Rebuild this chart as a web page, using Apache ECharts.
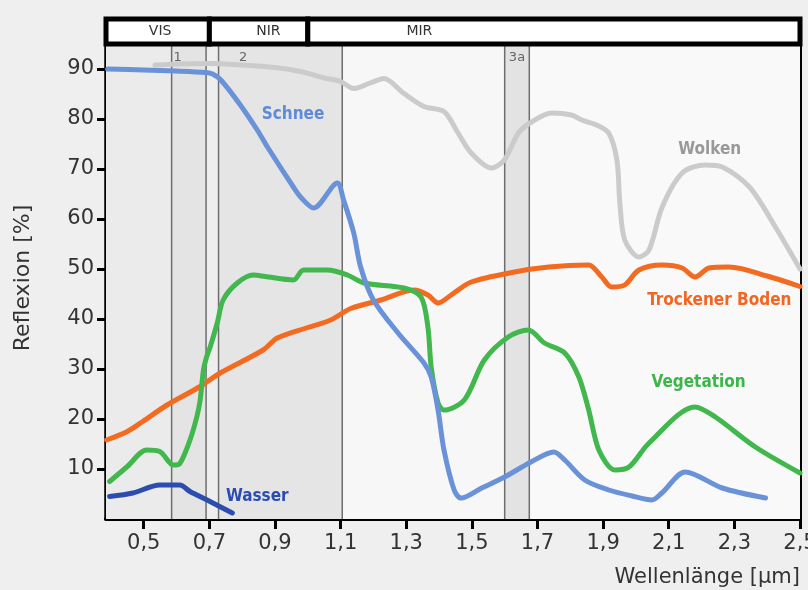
<!DOCTYPE html>
<html><head><meta charset="utf-8">
<script src="https://cdn.jsdelivr.net/npm/echarts@6/dist/echarts.min.js"></script>
<style>html,body{margin:0;padding:0;background:#efefef}#c{width:808px;height:590px}</style>
</head><body><div id="c"></div>
<script>
// ---- data ----
const xTicks = [0.5,0.7,0.9,1.1,1.3,1.5,1.7,1.9,2.1,2.3,2.5];
const yTicks = [10,20,30,40,50,60,70,80,90];

const schnee = [[0.39,90],[0.5,89.8],[0.6,89.6],[0.69,89.3],[0.71,89],[0.735,87.8],[0.79,83.2],[0.846,77.8],[0.877,74.4],[0.956,66.4],[0.978,64.4],[1.018,62.2],[1.09,67.2],[1.109,63.8],[1.14,57.2],[1.161,50.4],[1.2,43.8],[1.275,37.2],[1.354,31.2],[1.376,28.4],[1.397,21.8],[1.415,13.8],[1.446,5.8],[1.467,4.2],[1.53,6.2],[1.6,8.4],[1.68,11.4],[1.75,13.4],[1.783,11.8],[1.844,7.8],[1.917,5.8],[1.988,4.6],[2.049,3.8],[2.079,5.2],[2.15,9.4],[2.263,6.2],[2.395,4.2]];

const wolken = [[0.534,90.8],[0.6,91],[0.702,91.1],[0.8,90.8],[0.9,90.3],[0.978,89.5],[1.05,88.2],[1.1,87.5],[1.14,86.1],[1.19,87.2],[1.232,88.1],[1.293,85.1],[1.354,82.5],[1.415,81.5],[1.458,77.2],[1.498,73.2],[1.559,70.2],[1.599,71.8],[1.642,77.2],[1.682,79.4],[1.743,81.2],[1.804,80.8],[1.835,79.8],[1.88,78.8],[1.917,77.2],[1.942,71.8],[1.951,63.2],[1.966,55.8],[2.009,52.4],[2.04,53.8],[2.08,62.4],[2.141,69.2],[2.211,70.8],[2.263,70.4],[2.346,66.4],[2.425,58.4],[2.5,50]];

const boden = [[0.387,15.8],[0.45,17.5],[0.497,19.5],[0.571,22.8],[0.672,26.5],[0.733,29.2],[0.864,33.8],[0.907,36.2],[1.0,38.3],[1.07,39.8],[1.131,42.1],[1.223,43.8],[1.324,45.8],[1.366,44.8],[1.397,43.2],[1.437,44.8],[1.498,47.4],[1.63,49.4],[1.734,50.4],[1.856,50.8],[1.896,48.4],[1.926,46.4],[1.966,46.8],[2.009,49.8],[2.08,50.8],[2.141,50.2],[2.18,48.4],[2.223,50.2],[2.284,50.4],[2.4,48.6],[2.5,46.5]];

const vegetation = [[0.396,7.5],[0.45,10.5],[0.509,13.8],[0.549,13.5],[0.59,10.8],[0.61,11.1],[0.641,15.8],[0.662,20.5],[0.672,23.8],[0.682,29.8],[0.692,32.5],[0.702,34.3],[0.724,39.2],[0.742,43.8],[0.785,47.2],[0.834,48.8],[0.87,48.5],[0.956,47.8],[0.987,49.8],[1.06,49.8],[1.121,48.8],[1.171,47.2],[1.293,46.2],[1.345,44.4],[1.366,38.4],[1.376,30.4],[1.397,23.2],[1.415,21.8],[1.477,23.8],[1.538,31.8],[1.611,36.4],[1.672,37.8],[1.721,35.2],[1.783,33.2],[1.826,28.4],[1.856,21.8],[1.887,13.8],[1.936,9.8],[1.979,10.4],[2.04,15.2],[2.18,22.4],[2.242,20.4],[2.364,14.4],[2.5,9.2]];

const wasser = [[0.396,4.5],[0.467,5.2],[0.549,6.8],[0.61,6.8],[0.641,5.5],[0.702,3.5],[0.77,1.2]];

// spectral ranges (top row): name, from, to, label position
const bandNames = ['VIS','NIR','MIR'];
const bandFrom = [0.385,0.7,1.0];
const bandTo = [0.7,1.0,2.5];
const bandLabelX = [0.55,0.88,1.34];
const bandRow = [95,100];

// sensor channels
const channelNames = ['1','2','3a'];
const channelFrom = [0.585,0.728,1.6];
const channelTo = [0.69,1.105,1.675];
const channelLabelX = [0.603,0.803,1.6375];
const channelLabelY = 92.3;

// background regions
const regionEdges = [0.385,0.585,0.69,0.728,1.105,1.6,1.675,2.5];

// series label positions
const seriesLabels = [
  ['Schnee',0.955,80.9],
  ['Wolken',2.225,73.9],
  ['Trockener Boden',2.254,43.7],
  ['Vegetation',2.191,27.3],
  ['Wasser',0.846,4.5]
];

// ---- styles ----
const regionColors = ['#ebebeb','#e4e4e4','#eeeeee','#e5e5e5','#f7f7f7','#e3e3e3','#f9f9f9'];
const colors = {Schnee:'#6a92d8', Wolken:'#cbcbcb', 'Trockener Boden':'#f26b21', Vegetation:'#41b74e', Wasser:'#2c4db0'};
const labelColors = {Schnee:'#5f8ad6', Wolken:'#999999', 'Trockener Boden':'#f26522', Vegetation:'#3cb54a', Wasser:'#2c4db0'};
const tickFont = 'DejaVu Sans';
const labelFont = "'Liberation Sans Narrow','DejaVu Sans Condensed','Liberation Sans',sans-serif";

const regionData = [];
for (let i = 0; i < regionEdges.length - 1; i++) regionData.push([regionEdges[i], regionEdges[i+1], i]);
const edgeLines = [];
channelFrom.forEach((v,i)=>{ edgeLines.push(v); edgeLines.push(channelTo[i]); });

const chart = echarts.init(document.getElementById('c'));
const fmt = v => v.toFixed(1).replace('.', ',');

function lineSeries(name, data, z) {
  return {
    name, type:'line', data, showSymbol:false, smooth:0.3, z,
    lineStyle:{color:colors[name], width:5, cap:'round', join:'round'},
    itemStyle:{color:colors[name]}
  };
}

chart.setOption({
  backgroundColor:'#efefef',
  animation:false,
  grid:{left:106, right:8, top:19, bottom:71, outerBoundsMode:'none', containLabel:false},
  xAxis:[{
    type:'value', min:0.385, max:2.5, position:'bottom',
    axisLine:{lineStyle:{color:'#000', width:3.5}},
    axisTick:{show:true, length:10, lineStyle:{color:'#000', width:3}, customValues:xTicks},
    axisLabel:{customValues:xTicks, formatter:fmt, color:'#333', fontFamily:tickFont, fontSize:21, margin:14},
    splitLine:{show:false},
    name:'Wellenlänge [μm]', nameLocation:'end', nameGap:0,
    nameTextStyle:{align:'right', verticalAlign:'top', padding:[48,0,0,0], color:'#333', fontFamily:tickFont, fontSize:21}
  },{
    type:'value', min:0.385, max:2.5, position:'top',
    axisLine:{show:true, lineStyle:{color:'#000', width:4}},
    axisTick:{show:false}, axisLabel:{show:false}, splitLine:{show:false}
  }],
  yAxis:[{
    type:'value', min:0, max:100, position:'left',
    axisLine:{show:true, lineStyle:{color:'#000', width:3.5}},
    axisTick:{show:true, length:9, lineStyle:{color:'#000', width:3}, customValues:yTicks},
    axisLabel:{customValues:yTicks, color:'#333', fontFamily:tickFont, fontSize:21, margin:12},
    splitLine:{show:false},
    name:'Reflexion [%]', nameLocation:'middle', nameGap:72,
    nameTextStyle:{color:'#333', fontFamily:tickFont, fontSize:22, padding:[0,18,0,0]}
  },{
    type:'value', min:0, max:100, position:'right',
    axisLine:{show:true, lineStyle:{color:'#000', width:4}},
    axisTick:{show:false}, axisLabel:{show:false}, splitLine:{show:false}
  }],
  series:[
    { // background regions
      type:'custom', z:1, silent:true, clip:true,
      data: regionData,
      renderItem(params, api){
        const p0 = api.coord([api.value(0), bandRow[0]]);
        const p1 = api.coord([api.value(1), 0]);
        return {type:'rect', shape:{x:p0[0], y:p0[1], width:p1[0]-p0[0], height:p1[1]-p0[1]},
          style:{fill:regionColors[api.value(2)]}};
      }
    },
    { // channel edge lines
      type:'custom', z:2, silent:true,
      data: edgeLines.map(v=>[v]),
      renderItem(params, api){
        const a = api.coord([api.value(0), 0]);
        const b = api.coord([api.value(0), bandRow[0]]);
        return {type:'line', shape:{x1:a[0], y1:a[1], x2:b[0], y2:b[1]}, style:{stroke:'#6e6e6e', lineWidth:1.5}};
      }
    },
    { // channel labels
      type:'custom', z:3, silent:true,
      data: channelNames.map((n,i)=>[channelLabelX[i], channelLabelY, i]),
      renderItem(params, api){
        const p = api.coord([api.value(0), api.value(1)]);
        return {type:'text', x:p[0], y:p[1], style:{text:channelNames[api.value(2)], align:'center', verticalAlign:'middle', fill:'#666', font:'13px "DejaVu Sans"'}};
      }
    },
    { // band row
      type:'custom', z:10, silent:true, clip:false,
      data: bandNames.map((n,i)=>[bandFrom[i], bandTo[i], bandLabelX[i], i]),
      renderItem(params, api){
        const p0 = api.coord([api.value(0), bandRow[1]]);
        const p1 = api.coord([api.value(1), bandRow[0]]);
        const lx = api.coord([api.value(2), 0])[0];
        return {type:'group', children:[
          {type:'rect', shape:{x:p0[0], y:p0[1], width:p1[0]-p0[0], height:p1[1]-p0[1]},
            style:{fill:'#ffffff', stroke:'#000', lineWidth:5}},
          {type:'text', x:lx, y:(p0[1]+p1[1])/2, style:{text:bandNames[api.value(3)], align:'center', verticalAlign:'middle', fill:'#333', font:'14px "DejaVu Sans"'}}
        ]};
      }
    },
    lineSeries('Wolken', wolken, 4),
    lineSeries('Trockener Boden', boden, 5),
    lineSeries('Vegetation', vegetation, 6),
    lineSeries('Schnee', schnee, 7),
    lineSeries('Wasser', wasser, 8),
    { // series labels
      type:'custom', z:9, silent:true,
      data: seriesLabels.map((s,i)=>[s[1], s[2], i]),
      renderItem(params, api){
        const p = api.coord([api.value(0), api.value(1)]);
        const name = seriesLabels[api.value(2)][0];
        return {type:'text', x:p[0], y:p[1], style:{text:name, align:'center', verticalAlign:'middle', fill:labelColors[name], font:'bold 17px ' + labelFont}};
      }
    }
  ]
});
</script>
</body></html>
